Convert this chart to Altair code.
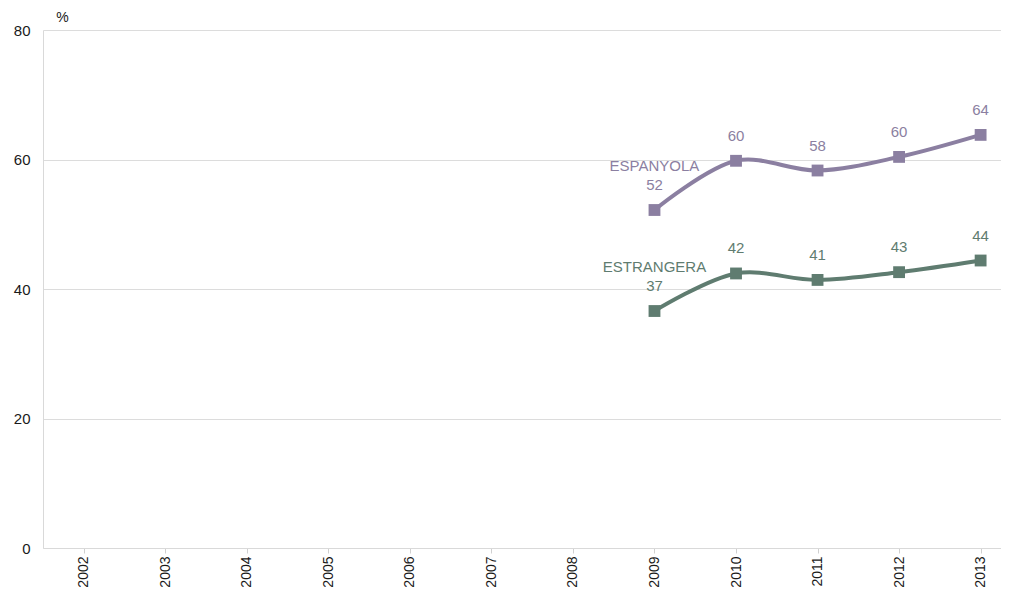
import altair as alt
import pandas as pd

years_axis = list(range(2002, 2014))
years = [2009, 2010, 2011, 2012, 2013]
espanyola = [52.2, 59.8, 58.3, 60.4, 63.8]
estrangera = [36.6, 42.4, 41.4, 42.6, 44.4]
series_names = ["ESPANYOLA", "ESTRANGERA"]
colors = ["#8b7fa1", "#5f7c70"]

rows = []
for name, vals in zip(series_names, [espanyola, estrangera]):
    for y, v in zip(years, vals):
        rows.append({"year": y, "value": v, "serie": name})
df = pd.DataFrame(rows)
first = df[df["year"] == 2009]

FONT = "Liberation Sans"
xscale = alt.Scale(domain=[2001.5, 2013.25], nice=False, zero=False)
yscale = alt.Scale(domain=[0, 80], nice=False)
color = alt.Color("serie:N", scale=alt.Scale(domain=series_names, range=colors), legend=None)

x = alt.X("year:Q", scale=xscale,
          axis=alt.Axis(values=years_axis, format="d", labelAngle=-90, labelAlign="right",
                        labelBaseline="middle", labelFontSize=14, labelColor="#1a1a1a",
                        labelFont=FONT, tickColor="#d0d0d0", tickSize=5, labelPadding=3,
                        domainColor="#d9d9d9", grid=False, title=None))
y = alt.Y("value:Q", scale=yscale,
          axis=alt.Axis(values=[0, 20, 40, 60, 80], labelFontSize=15, labelColor="#1a1a1a",
                        labelFont=FONT, ticks=False, labelPadding=13, domainColor="#d9d9d9",
                        gridColor="#dcdcdc", title="%", titleAngle=0, titleX=19, titleY=-13,
                        titleFontSize=14, titleFontWeight="normal", titleFont=FONT,
                        titleColor="#1a1a1a", titleAlign="center", titleBaseline="middle"))

base = alt.Chart(df)
line = base.mark_line(interpolate="catmull-rom", strokeWidth=4).encode(x=x, y=y, color=color)
pts = base.mark_point(shape="square", filled=True, size=140, opacity=1).encode(
    x="year:Q", y="value:Q", color=color)
vals = base.mark_text(dy=-25, fontSize=15, font=FONT).encode(
    x="year:Q", y="value:Q", color=color, text=alt.Text("value:Q", format=".0f"))
names = alt.Chart(first).mark_text(dy=-44, fontSize=15, font=FONT).encode(
    x="year:Q", y="value:Q", color=color, text="serie:N")

chart = alt.layer(line, pts, vals, names).properties(
    width=958, height=518,
    autosize=alt.AutoSizeParams(type="none"),
    padding={"left": 35, "top": 22, "right": 0, "bottom": 40},
).configure_view(stroke=None).configure_axis(labelFlush=False)

chart.save("out.html", embed_options={"renderer": "svg", "actions": False})
